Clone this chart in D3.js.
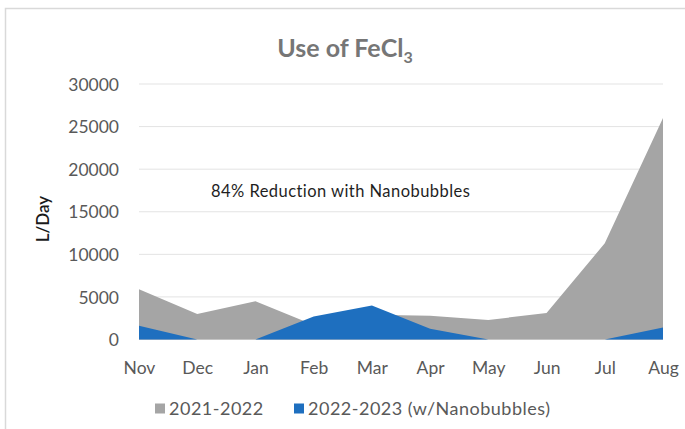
<!DOCTYPE html>
<html>
<head>
<meta charset="utf-8">
<script src="https://cdn.jsdelivr.net/npm/d3@7"></script>
<style>
  html, body { margin: 0; padding: 0; background: #ffffff; }
  svg { display: block; }
  text { font-family: Lato, "Open Sans", sans-serif; }
</style>
</head>
<body>
<div id="chart"></div>
<script>
const categories = ["Nov", "Dec", "Jan", "Feb", "Mar", "Apr", "May", "Jun", "Jul", "Aug"];
const series2122 = [5900, 3000, 4500, 1700, 2900, 2800, 2300, 3100, 11300, 26000];
const series2223 = [1600, 0, 0, 2700, 4000, 1250, 0, 0, 0, 1400];
const yTicks = [0, 5000, 10000, 15000, 20000, 25000, 30000];
const seriesNames = ["2021-2022", "2022-2023 (w/Nanobubbles)"];
const seriesColors = ["#a5a5a5", "#1e6fbf"];
const titleMain = "Use of FeCl";
const titleSub = "3";
const yLabel = "L/Day";
const annotation = "84% Reduction with Nanobubbles";

const W = 685, H = 429;
const svg = d3.select("#chart").append("svg").attr("width", W).attr("height", H);

// chart border
svg.append("rect").attr("x", 5.5).attr("y", 8.5).attr("width", 700).attr("height", 440)
  .attr("fill", "#ffffff").attr("stroke", "#d9d9d9").attr("stroke-width", 1.5);

const x = d3.scalePoint().domain(categories).range([139, 663]);
const y = d3.scaleLinear().domain([0, 30000]).range([339.5, 84]);

// gridlines
svg.append("g").selectAll("line").data(yTicks).join("line")
  .attr("x1", 139).attr("x2", 663)
  .attr("y1", d => y(d)).attr("y2", d => y(d))
  .attr("stroke", "#e3e3e3").attr("stroke-width", 1);

// y axis labels
const yAxis = d3.axisLeft(y).tickValues(yTicks).tickSize(0).tickPadding(0).tickFormat(d3.format("d"));
const gy = svg.append("g").attr("transform", "translate(119,0)").call(yAxis);
gy.select(".domain").remove();
gy.selectAll("text").attr("fill", "#595959").style("font-size", "17.5px").attr("dy", "0.35em")
  .style("font-family", "Lato, sans-serif");

// areas
const area = d3.area().x((d, i) => x(categories[i])).y0(y(0)).y1(d => y(d));
svg.append("path").datum(series2122).attr("d", area).attr("fill", seriesColors[0]);
svg.append("path").datum(series2223).attr("d", area).attr("fill", seriesColors[1]);

// x axis labels
const xAxis = d3.axisBottom(x).tickSize(0).tickPadding(0);
const gx = svg.append("g").attr("transform", "translate(0,362)").call(xAxis);
gx.select(".domain").remove();
gx.selectAll("text").attr("fill", "#595959").style("font-size", "17.5px").attr("dy", "0.71em")
  .style("font-family", "Lato, sans-serif");

// title
const title = svg.append("text").attr("x", 345).attr("y", 57).attr("text-anchor", "middle")
  .attr("fill", "#767676").style("font-size", "25px").style("font-weight", "bold");
title.append("tspan").text(titleMain);
title.append("tspan").text(titleSub).attr("dy", 6).style("font-size", "16px");

// y label
svg.append("text").attr("transform", "translate(49,219) rotate(-90)")
  .attr("text-anchor", "middle").attr("fill", "#1a1a1a")
  .style("font-size", "17px").style("font-weight", "600").text(yLabel);

// annotation
svg.append("text").attr("x", 211).attr("y", 196.5).attr("fill", "#1f1f1f")
  .style("font-size", "16.5px").style("letter-spacing", "0.45px").text(annotation);

// legend
const legendX = [155, 294];
const lg = svg.append("g");
seriesNames.forEach((name, i) => {
  lg.append("rect").attr("x", legendX[i]).attr("y", 403.5).attr("width", 10).attr("height", 10)
    .attr("fill", seriesColors[i]);
  lg.append("text").attr("x", legendX[i] + 14).attr("y", 408.5).attr("dy", "0.35em")
    .attr("fill", "#595959").style("font-size", "18px").style("letter-spacing", "0.5px").text(name);
});
</script>
</body>
</html>
